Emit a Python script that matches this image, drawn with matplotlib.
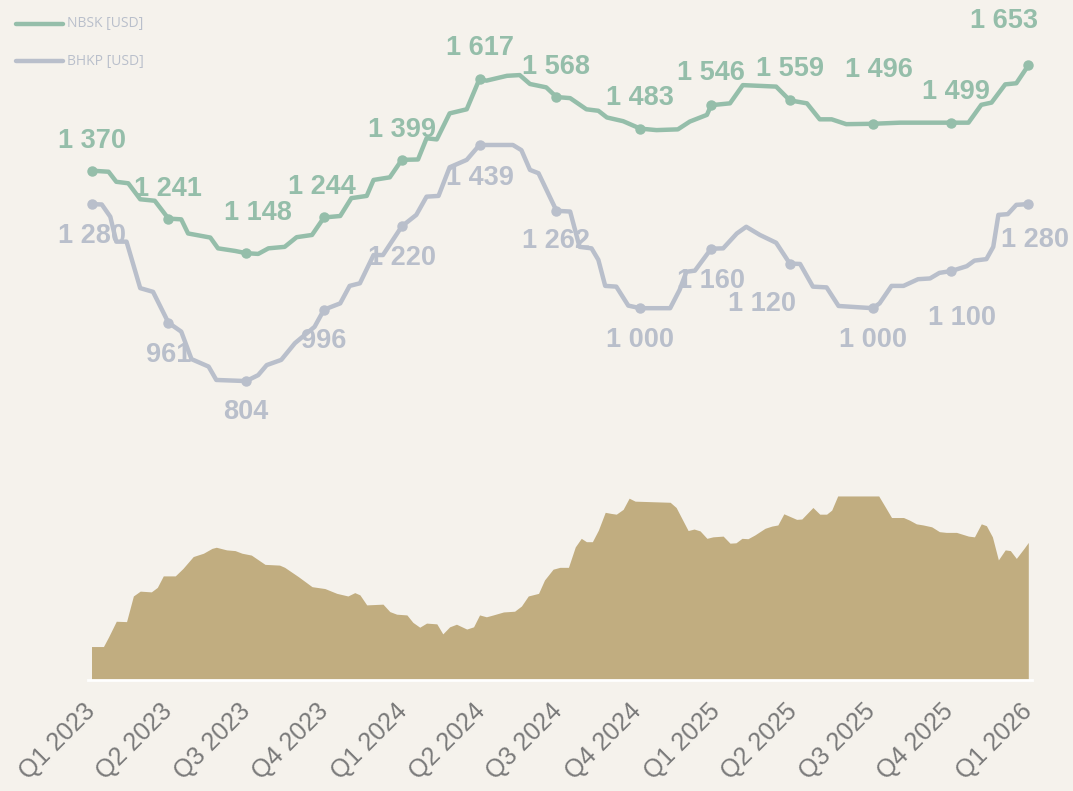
import matplotlib
matplotlib.use("Agg")
import matplotlib.pyplot as plt
from matplotlib.lines import Line2D
import pandas as pd
import numpy as np

# ---------------- data ----------------
start = pd.Timestamp("2023-01-01")
quarter_labels = ["Q1 2023", "Q2 2023", "Q3 2023", "Q4 2023", "Q1 2024", "Q2 2024",
                  "Q3 2024", "Q4 2024", "Q1 2025", "Q2 2025", "Q3 2025", "Q4 2025", "Q1 2026"]

# days since 2023-01-01 of the quarterly marker observations
marker_days = [0, 90, 181, 272, 363, 454, 544, 642, 725, 817, 914, 1006, 1096]
nbsk_q = [1370, 1241, 1148, 1244, 1399, 1617, 1568, 1483, 1546, 1559, 1496, 1499, 1653]
bhkp_q = [1280, 961, 804, 996, 1220, 1439, 1262, 1000, 1160, 1120, 1000, 1100, 1280]

nbsk_days = [0, 20, 29, 43, 57, 74, 90, 105, 113, 139, 148, 168, 181, 195, 207, 226, 240,
             258, 272, 291, 304, 322, 330, 349, 363, 382, 392, 404, 419, 439, 454, 462,
             486, 501, 513, 532, 544, 560, 579, 593, 603, 622, 642, 661, 686, 700, 720,
             725, 747, 762, 801, 817, 837, 852, 866, 883, 914, 946, 1006, 1026, 1041,
             1053, 1069, 1082, 1096]
nbsk_vals = [1370, 1367, 1340, 1336, 1293, 1289, 1241, 1239, 1201, 1190, 1161, 1154, 1148,
             1146, 1161, 1165, 1191, 1197, 1244, 1248, 1296, 1302, 1345, 1352, 1399, 1400,
             1457, 1454, 1524, 1535, 1617, 1612, 1625, 1627, 1603, 1594, 1568, 1565, 1535,
             1531, 1513, 1503, 1483, 1479, 1481, 1502, 1520, 1546, 1551, 1600, 1596, 1559,
             1551, 1508, 1508, 1495, 1496, 1499, 1499, 1499, 1547, 1553, 1602, 1605, 1653]

bhkp_days = [0, 12, 22, 29, 41, 57, 72, 90, 105, 117, 137, 146, 181, 195, 205, 222, 238,
             261, 272, 291, 302, 314, 330, 341, 363, 380, 392, 406, 419, 439, 454, 493,
             503, 513, 523, 544, 560, 571, 585, 593, 601, 614, 628, 642, 677, 688, 696,
             706, 725, 739, 755, 766, 782, 801, 817, 829, 844, 860, 874, 914, 922, 936,
             950, 967, 981, 992, 1006, 1024, 1033, 1047, 1055, 1061, 1072, 1082, 1096]
bhkp_vals = [1280, 1279, 1246, 1179, 1179, 1054, 1044, 961, 937, 863, 843, 807, 804, 820,
             847, 861, 906, 950, 996, 1013, 1060, 1067, 1143, 1143, 1220, 1251, 1300, 1302,
             1379, 1399, 1439, 1439, 1425, 1372, 1363, 1262, 1260, 1165, 1161, 1130, 1060,
             1058, 1007, 1000, 1000, 1049, 1098, 1101, 1160, 1161, 1201, 1219, 1197, 1176,
             1120, 1119, 1058, 1056, 1006, 1000, 1013, 1060, 1060, 1078, 1080, 1095, 1100,
             1113, 1128, 1132, 1165, 1251, 1253, 1278, 1280]

spread_days = [0, 14, 20, 29, 41, 49, 57, 70, 77, 84, 98, 107, 119, 131, 141, 146, 158,
               168, 176, 187, 203, 220, 226, 242, 258, 273, 287, 300, 308, 314, 322, 341,
               349, 357, 369, 376, 384, 392, 404, 411, 419, 427, 439, 447, 454, 462, 470,
               482, 495, 503, 511, 523, 530, 540, 548, 558, 566, 573, 579, 586, 593, 601,
               608, 614, 622, 629, 636, 677, 684, 698, 705, 712, 720, 727, 739, 747, 754,
               761, 768, 776, 788, 796, 803, 810, 825, 831, 844, 852, 860, 866, 873, 921,
               928, 936, 950, 957, 965, 973, 983, 992, 1000, 1012, 1026, 1033, 1041, 1047,
               1054, 1061, 1069, 1075, 1082, 1091, 1096]
spread_vals = [90, 90, 116, 158, 157, 226, 239, 237, 249, 280, 280, 300, 332, 341, 354,
               357, 350, 348, 341, 336, 311, 309, 303, 278, 251, 246, 233, 226, 235, 229,
               202, 204, 184, 177, 175, 155, 142, 153, 151, 124, 143, 150, 137, 143, 175,
               170, 175, 183, 185, 199, 226, 233, 269, 298, 303, 303, 358, 381, 372, 372,
               403, 451, 448, 446, 459, 489, 481, 478, 464, 402, 406, 401, 381, 385, 387,
               368, 369, 381, 380, 390, 408, 414, 417, 447, 432, 433, 464, 446, 446, 457,
               495, 495, 468, 437, 437, 430, 420, 417, 412, 399, 397, 397, 387, 385, 420,
               415, 385, 323, 350, 348, 327, 354, 370]

# label offsets in pixels (dx, dy), screen coordinates (dy positive = up)
nbsk_offsets = [(0, 30), (0, 30), (12, 40), (-2, 30), (0, 30), (0, 31), (0, 30), (0, 31),
                (0, 32), (0, 31), (6, 54), (5, 31), (-24, 44)]
bhkp_offsets = [(0, -32), (0, -32), (0, -31), (0, -31), (0, -32), (0, -33), (0, -30),
                (0, -32), (0, -32), (-28, -40), (0, -32), (11, -47), (7, -36)]

# ---------------- style ----------------
BG = "#F5F2EC"
GREEN = "#95BEAA"
GREY = "#B9BFCB"
SAND = "#C1AD80"
TICK = "#7A7A7A"

W, H = 1073, 791
DPI = 100
fig = plt.figure(figsize=(W / DPI, H / DPI), dpi=DPI, facecolor=BG)

x0_px, x1_px = 91.5, 1028.3
y0_px = 680.0
px_per_unit = 0.3718
ymax = 1800
ytop_px = y0_px - ymax * px_per_unit
ax = fig.add_axes([x0_px / W, (H - y0_px) / H, (x1_px - x0_px) / W, (y0_px - ytop_px) / H])
ax.set_facecolor(BG)

def to_dates(days):
    return start + pd.to_timedelta(np.asarray(days), unit="D")

qd = to_dates(marker_days)

ax.fill_between(to_dates(spread_days), 0, spread_vals, color=SAND, lw=0, zorder=1)

ax.plot(to_dates(nbsk_days), nbsk_vals, color=GREEN, lw=3.2, solid_joinstyle="round",
        solid_capstyle="round", clip_on=False, zorder=3)
ax.plot(to_dates(bhkp_days), bhkp_vals, color=GREY, lw=3.2, solid_joinstyle="round",
        solid_capstyle="round", clip_on=False, zorder=3)
ax.plot(qd, nbsk_q, "o", color=GREEN, ms=6.5, clip_on=False, zorder=4)
ax.plot(qd, bhkp_q, "o", color=GREY, ms=6.5, clip_on=False, zorder=4)

def fmt(v):
    return f"{v:,}".replace(",", " ")

for d, v, (dx, dy) in zip(qd, nbsk_q, nbsk_offsets):
    ax.annotate(fmt(v), (d, v), xytext=(dx * 72 / DPI, dy * 72 / DPI), textcoords="offset points",
                ha="center", va="center", fontsize=19.5, fontweight="bold",
                family="Liberation Sans", color=GREEN, zorder=2, annotation_clip=False)
for d, v, (dx, dy) in zip(qd, bhkp_q, bhkp_offsets):
    ax.annotate(fmt(v), (d, v), xytext=(dx * 72 / DPI, dy * 72 / DPI), textcoords="offset points",
                ha="center", va="center", fontsize=19.5, fontweight="bold",
                family="Liberation Sans", color=GREY, zorder=2, annotation_clip=False)

ax.set_xlim(qd[0], qd[-1])
ax.set_ylim(0, ymax)
ax.set_yticks([])
tick_dates = pd.date_range("2023-01-01", "2026-01-01", freq="QS")
ax.set_xticks(tick_dates)
ax.set_xticklabels(quarter_labels, rotation=45, ha="right", va="center",
                   rotation_mode="anchor", fontsize=18, family="Liberation Sans", color=TICK)
ax.tick_params(axis="x", length=0, pad=20)
for s in ["top", "left", "right", "bottom"]:
    ax.spines[s].set_visible(False)
# white baseline under the area
ax.axhline(0, xmin=-0.004, xmax=1.004, color="white", lw=2, clip_on=False, zorder=2)

# legend drawn manually in figure pixel coordinates
for (yy, col, lab) in [(24, GREEN, "NBSK [USD]"), (61, GREY, "BHKP [USD]")]:
    fig.add_artist(Line2D([16 / W, 63 / W], [1 - yy / H, 1 - yy / H], color=col, lw=3.2,
                          solid_capstyle="round", transform=fig.transFigure))
    fig.text(67 / W, 1 - yy / H, lab, ha="left", va="center", fontsize=10,
             family="Open Sans", color=GREY)

fig.savefig("out.png", dpi=DPI, facecolor=BG)
